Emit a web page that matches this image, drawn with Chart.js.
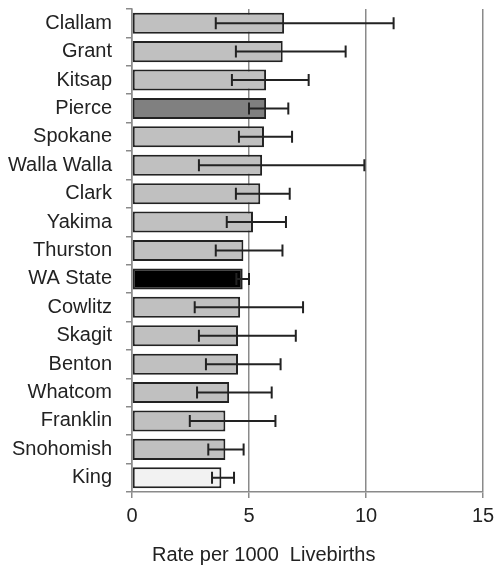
<!DOCTYPE html>
<html>
<head>
<meta charset="utf-8">
<script src="https://cdn.jsdelivr.net/npm/chart.js@4"></script>
<style>
    html, body { margin: 0; padding: 0; background: #fff; }
    #wrap { position: relative; width: 494px; height: 567px; }
    #axis-title {
        position: absolute; left: 152px; top: 542px;
        font: 20px "Liberation Sans", Arial, sans-serif; color: #222;
        white-space: pre; line-height: 24px;
    }
</style>
</head>
<body>
<div id="wrap">
    <canvas id="chart" width="494" height="567"></canvas>
    <div id="axis-title">Rate per 1000  Livebirths</div>
</div>
<script>
// Infant mortality rate by county, with confidence intervals
const counties = ['Clallam', 'Grant', 'Kitsap', 'Pierce', 'Spokane', 'Walla Walla', 'Clark', 'Yakima', 'Thurston',
    'WA State', 'Cowlitz', 'Skagit', 'Benton', 'Whatcom', 'Franklin', 'Snohomish', 'King'];
const rates = [6.50, 6.44, 5.73, 5.73, 5.64, 5.56, 5.48, 5.17, 4.76, 4.73, 4.62, 4.53, 4.53, 4.15, 3.99, 3.99, 3.82];
const lower = [3.58, 4.44, 4.27, 5.00, 4.57, 2.86, 4.44, 4.05, 3.58, 4.46, 2.68, 2.86, 3.16, 2.78, 2.47, 3.26, 3.42];
const upper = [11.18, 9.13, 7.55, 6.68, 6.84, 9.93, 6.74, 6.58, 6.43, 5.00, 7.31, 7.00, 6.35, 5.97, 6.13, 4.77, 4.36];
const xTicks = [0, 5, 10, 15];

const barColors = counties.map(c => {
    if (c === 'Pierce') return '#808080';
    if (c === 'WA State') return '#000000';
    if (c === 'King') return '#f2f2f2';
    return '#c0c0c0';
});

// Draws the CI whiskers on top of the bars
const errorBars = {
    id: 'errorBars',
    afterDatasetsDraw(chart) {
        const ctx = chart.ctx;
        const x = chart.scales.x;
        const meta = chart.getDatasetMeta(0);
        ctx.save();
        ctx.strokeStyle = '#222';
        ctx.lineWidth = 2;
        meta.data.forEach((bar, i) => {
            const y = bar.y;
            const x1 = x.getPixelForValue(lower[i]);
            const x2 = x.getPixelForValue(upper[i]);
            ctx.beginPath();
            ctx.moveTo(x1, y); ctx.lineTo(x2, y);
            ctx.moveTo(x1, y - 6); ctx.lineTo(x1, y + 6);
            ctx.moveTo(x2, y - 6); ctx.lineTo(x2, y + 6);
            ctx.stroke();
        });
        ctx.restore();
    }
};

new Chart(document.getElementById('chart'), {
    type: 'bar',
    data: {
        labels: counties,
        datasets: [{
            data: rates,
            backgroundColor: barColors,
            borderColor: '#222',
            borderWidth: 2,
            borderSkipped: false,
            categoryPercentage: 1,
            barPercentage: 0.74
        }]
    },
    options: {
        indexAxis: 'y',
        responsive: false,
        animation: false,
        layout: { padding: { top: 9, right: 11, left: 0, bottom: 0 } },
        plugins: { legend: { display: false }, tooltip: { enabled: false } },
        scales: {
            x: {
                min: 0, max: 15,
                afterBuildTicks: s => { s.ticks = xTicks.map(v => ({ value: v })); },
                afterFit: s => { s.height = 75; s.paddingLeft = 0; s.paddingRight = 0; },
                grid: { color: '#8a8a8a', lineWidth: 1.5, tickLength: 6, drawTicks: true },
                border: { color: '#8a8a8a', width: 1.5 },
                ticks: { color: '#222', padding: 6, maxRotation: 0, font: { family: 'Liberation Sans', size: 20 } }
            },
            y: {
                afterFit: s => { s.width = 132; s.paddingTop = 0; s.paddingBottom = 0; },
                grid: { drawOnChartArea: false, color: '#8a8a8a', lineWidth: 1.5, tickLength: 6, offset: true },
                border: { color: '#8a8a8a', width: 1.5 },
                ticks: { color: '#222', padding: 14, autoSkip: false, font: { family: 'Liberation Sans', size: 20 } }
            }
        }
    },
    plugins: [errorBars]
});
</script>
</body>
</html>
